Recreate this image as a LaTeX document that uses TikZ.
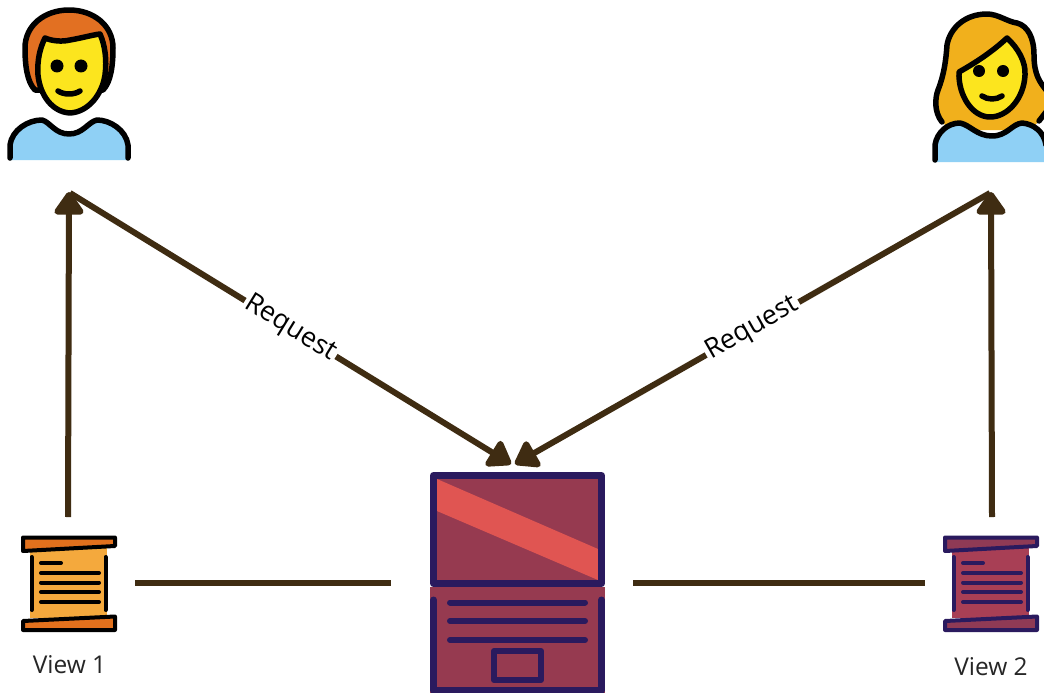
\documentclass[tikz,border=0pt]{standalone}
\usepackage{fontspec}
\setmainfont{Open Sans}
\usetikzlibrary{arrows.meta}
\definecolor{linkc}{HTML}{3F2C12}
\definecolor{navy}{HTML}{2A1A5E}
\definecolor{wine}{HTML}{963A50}
\definecolor{winebar}{HTML}{8F3A55}
\definecolor{winepaper}{HTML}{A83F55}
\definecolor{stripe}{HTML}{E05552}
\definecolor{orangebar}{HTML}{E2711D}
\definecolor{orangepaper}{HTML}{F4A93D}
\definecolor{skin}{HTML}{FCE51E}
\definecolor{shirt}{HTML}{8FD0F5}
\definecolor{hairm}{HTML}{E27022}
\definecolor{hairw}{HTML}{F1B01C}
\tikzset{
  anchorbox/.style={draw=none,fill=none,inner sep=0pt,outer sep=0pt,minimum width=#1},
  link/.style={draw=linkc,line width=6pt},
  duplex/.style={link,-{Triangle[length=25pt,width=33pt,round]}},
  oneway/.style={link,-{Triangle[length=25pt,width=33pt,round]}},
  reqlabel/.style={fill=white,font=\fontsize{27}{31}\selectfont,text=black,inner sep=2pt,sloped},
  caption/.style={font=\fontsize{24.5}{28}\selectfont,text=black!85,inner sep=0pt},
  ink/.style={draw=black,line width=5.5pt,line join=round,line cap=round},
  scrollline/.style={line width=4pt,line cap=round,line join=round},
  lapline/.style={draw=navy,line width=7pt,line cap=round,line join=round},
}
\newcommand{\scrollicon}[4]{%
 \begin{scope}[shift={(#1,0)}]
  \fill[#3] (30,548) rectangle (107,618);
  \filldraw[scrollline,draw=#4,fill=#2] (23,537.5) -- (115,537.5) -- (115,546) -- (23,551) -- cycle;
  \filldraw[scrollline,draw=#4,fill=#2] (23,621) -- (115,616.5) -- (115,630) -- (23,630) -- cycle;
  \draw[scrollline,draw=#4] (31.5,557) -- (31.5,610) (105.5,557) -- (105.5,610)
    (41,563) -- (61,563) (41,573) -- (99,573) (41,582.5) -- (99,582.5)
    (41,592) -- (99,592) (41,602) -- (99,602);
 \end{scope}}
\begin{document}
\begin{tikzpicture}[x=1pt,y=-1pt]
\clip (0,0) rectangle (1044,693);
\fill[white] (0,0) rectangle (1044,693);

% man
\filldraw[ink,fill=hairm] (35,90) .. controls (27,82) and (25,65) .. (25,48)
  .. controls (25,25) and (45,10) .. (69,10) .. controls (93,10) and (113,25) .. (113,48)
  .. controls (113,65) and (111,82) .. (103,90) -- cycle;
\filldraw[ink,fill=skin] (45,38) .. controls (52,41) and (62,42) .. (70,40)
  .. controls (82,38) and (92,35) .. (100,34) .. controls (105,45) and (107,60) .. (105,75)
  .. controls (102,95) and (88,112) .. (70,113) .. controls (52,112) and (40,95) .. (38,75)
  .. controls (37,60) and (40,48) .. (45,38) -- cycle;
\fill (57,66) circle (6.5);
\fill (81,66) circle (6.5);
\draw[ink] (58,91) .. controls (64,95) and (74,95) .. (80,91);
\fill[shirt] (10,160) -- (10,145) .. controls (12,130) and (28,120) .. (42,120)
  .. controls (50,122) and (55,134) .. (69,134) .. controls (83,134) and (88,122) .. (97,120)
  .. controls (110,120) and (126,130) .. (128,145) -- (128,160) -- cycle;
\draw[ink] (10,158) -- (10,145) .. controls (12,130) and (28,120) .. (42,120)
  .. controls (50,122) and (55,134) .. (69,134) .. controls (83,134) and (88,122) .. (97,120)
  .. controls (110,120) and (126,130) .. (128,145) -- (128,158);

% woman
\fill[hairw] (942,122) .. controls (934,112) and (935,98) .. (938,90)
  .. controls (944,75) and (946,60) .. (947,45) .. controls (950,28) and (965,14) .. (987,14)
  .. controls (998,14) and (1008,22) .. (1017,23) .. controls (1028,26) and (1034,38) .. (1034,55)
  .. controls (1034,75) and (1040,82) .. (1046,90) -- (1046,118) -- (1038,122) -- (1030,130) -- (950,130) -- cycle;
\draw[ink] (942,122) .. controls (934,112) and (935,98) .. (938,90)
  .. controls (944,75) and (946,60) .. (947,45) .. controls (950,28) and (965,14) .. (987,14)
  .. controls (998,14) and (1008,22) .. (1017,23) .. controls (1028,26) and (1034,38) .. (1034,55)
  .. controls (1034,75) and (1040,82) .. (1046,90);
\draw[ink] (1046,112) -- (1039,121);
\filldraw[ink,fill=skin] (1007,38) .. controls (1018,48) and (1026,62) .. (1025,75)
  .. controls (1024,98) and (1008,117) .. (990,117) .. controls (972,117) and (958,95) .. (959,72)
  .. controls (975,63) and (992,52) .. (1007,38) -- cycle;
\fill (979,71) circle (6);
\fill (1003,71) circle (6);
\draw[ink] (982,96) .. controls (988,100) and (996,100) .. (1002,96);
\fill[shirt] (935,162) -- (935,145) .. controls (937,132) and (948,123) .. (960,123)
  .. controls (970,125) and (977,136) .. (992,136) .. controls (1007,136) and (1012,124) .. (1022,123)
  .. controls (1034,124) and (1044,132) .. (1046,145) -- (1046,162) -- cycle;
\draw[ink] (935,160) -- (935,145) .. controls (937,132) and (948,123) .. (960,123)
  .. controls (970,125) and (977,136) .. (992,136) .. controls (1007,136) and (1012,124) .. (1022,123)
  .. controls (1034,124) and (1044,132) .. (1046,145);

% scrolls
\scrollicon{0}{orangebar}{orangepaper}{black}
\scrollicon{922}{winebar}{winepaper}{navy}

% laptop
\fill[wine] (430,587) rectangle (605,700);
\fill[wine] (433,475) rectangle (602,585);
\fill[stripe] (437,479) -- (598,549) -- (598,580) -- (437,511) -- cycle;
\draw[lapline] (433.5,475.5) rectangle (601.5,583.5);
\draw[lapline] (433.5,600) -- (433.5,690) -- (601.5,690) -- (601.5,600);
\draw[lapline,line width=6pt] (450,602.5) -- (585,602.5) (450,621) -- (585,621) (450,640) -- (585,640);
\draw[lapline,line width=6pt] (494,651) rectangle (541,680);

% named hit areas of the icons
\node[anchorbox=132pt,minimum height=132pt] (view1) at (69,583) {};
\node[anchorbox=132pt,minimum height=132pt] (view2) at (991,583) {};
\node[anchorbox=242pt,minimum height=240pt] (server) at (512,583) {};
\node[anchorbox=120pt,minimum height=186pt] (man) at (70,100) {};
\node[anchorbox=120pt,minimum height=186pt] (woman) at (990,100) {};

% connectors
\draw[oneway] ([xshift=-1pt]view1.north) -- ([xshift=-1pt,yshift=1pt]man.south);
\draw[oneway] ([xshift=1pt]view2.north) -- ([xshift=1pt,yshift=1pt]woman.south);
\draw[duplex] (man.south) -- node[reqlabel] (req1) {Request} ([xshift=-1pt,yshift=-1pt]server.north);
\draw[duplex] (woman.south) -- node[reqlabel] (req2) {Request} ([xshift=3pt,yshift=-1pt]server.north);
\draw[link] (view1.east) -- (server.west);
\draw[link] (server.east) -- (view2.west);

\node[caption] (cap1) at (69.5,665) {View 1};
\node[caption] (cap2) at (991,667) {View 2};
\end{tikzpicture}
\end{document}
